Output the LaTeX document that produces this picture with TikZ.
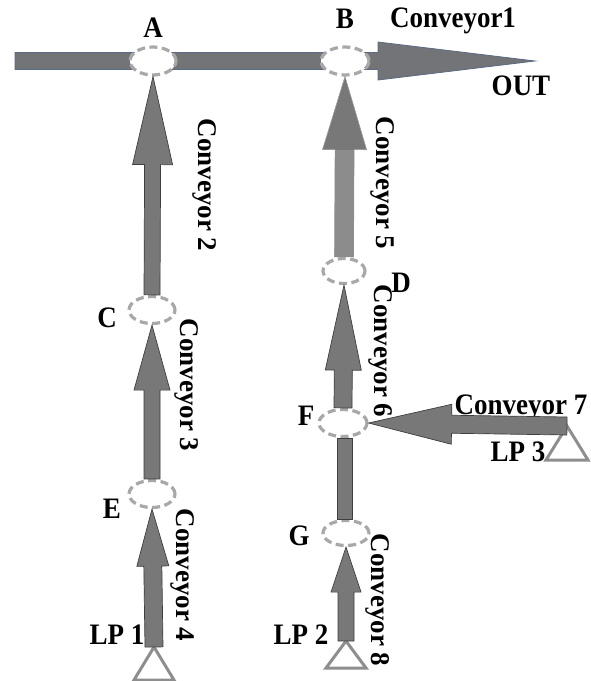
\documentclass[tikz,border=0pt]{standalone}
\usepackage{fontspec}
\setmainfont{Liberation Serif}
\usetikzlibrary{calc,shapes.geometric}

\definecolor{beltgray}{HTML}{787878}
\definecolor{beltedge}{HTML}{3E3E3E}
\definecolor{mainbelt}{HTML}{727478}
\definecolor{mainedge}{HTML}{5A6A84}
\definecolor{ringgray}{HTML}{A8A8A8}
\definecolor{lpgray}{HTML}{8E8E8E}

% block arrow: style, start, tip, head length, head half-width, shaft half-width
\newcommand\convarrow[6]{%
  \coordinate (ca-hb) at ($(#3)!#4!(#2)$);
  \path[#1] ($(#2)!#6!90:(#3)$) -- ($(ca-hb)!#6!90:(#3)$)
    -- ($(ca-hb)!#5!90:(#3)$) -- (#3)
    -- ($(ca-hb)!#5!-90:(#3)$) -- ($(ca-hb)!#6!-90:(#3)$)
    -- ($(#2)!#6!-90:(#3)$) -- cycle;
}
% slightly tall lettering for the upright labels
\newcommand\tall[1]{\scalebox{1}[1.1]{#1}}

\tikzset{
  belt/.style={fill=beltgray, draw=beltedge, line width=0.7pt, line join=miter},
  beltsoft/.style={fill=beltgray, draw=beltgray!75!white, line width=0.6pt},
  mainline/.style={fill=mainbelt, draw=mainedge, line width=0.8pt},
  ring/.style={ellipse, draw=ringgray, fill=white, line width=3.2pt,
    dash pattern=on 8pt off 4.5pt, inner sep=0pt},
  lpmark/.style={draw=lpgray, fill=white, line width=3pt, line join=miter},
  lbl/.style={font=\fontsize{27}{32}\selectfont\bfseries, inner sep=0pt}
}

\begin{document}
\begin{tikzpicture}[x=1pt,y=-1pt]
\path[use as bounding box] (0,0) rectangle (590,681);

% labels (drawn first so that conveyor 7 runs over its text)
\node[lbl] (lA) at (153,28) {\tall{A}};
\node[lbl] (lB) at (345,19) {\tall{B}};
\node[lbl] (lc1) at (453,21) {\tall{Conveyor1}};
\node[lbl] (lout) at (521,86) {\tall{OUT}};
\node[lbl] (lC) at (107,318) {\tall{C}};
\node[lbl] (lD) at (401,283) {\tall{D}};
\node[lbl] (lE) at (112,509) {\tall{E}};
\node[lbl] (lF) at (306,416) {\tall{F}};
\node[lbl] (lG) at (299,536) {\tall{G}};
\node[lbl] (llp1) at (117,635) {\tall{LP 1}};
\node[lbl] (llp2) at (301,635) {\tall{LP 2}};
\node[lbl] (llp3) at (518,452) {\tall{LP 3}};
\node[lbl] (lc7) at (521,408) {\tall{Conveyor 7}};
\node[lbl, rotate=-90] (lc2) at (205,185) {Conveyor 2};
\node[lbl, rotate=-90] (lc3) at (187,385) {Conveyor 3};
\node[lbl, rotate=-90] (lc4) at (183,575) {Conveyor 4};
\node[lbl, rotate=-90] (lc5) at (383,183) {Conveyor 5};
\node[lbl, rotate=-90] (lc6) at (381,351) {Conveyor 6};
\node[lbl, rotate=-90] (lc8) at (378,600) {Conveyor 8};

% main line, conveyor 1
\coordinate (in1) at (15,61);
\coordinate (out1) at (535,61);
\convarrow{mainline}{in1}{out1}{157pt}{19pt}{8.5pt}

% junction rings
\node[ring, minimum width=46pt, minimum height=28pt] (A) at (153,61) {};
\node[ring, minimum width=48pt, minimum height=28pt] (B) at (345,61) {};
\node[ring, minimum width=46pt, minimum height=27pt] (C) at (152,310) {};
\node[ring, minimum width=42pt, minimum height=25pt] (D) at (344,271) {};
\node[ring, minimum width=46pt, minimum height=27pt] (E) at (152,494) {};
\node[ring, minimum width=48pt, minimum height=27pt] (F) at (343,423) {};
\node[ring, minimum width=46pt, minimum height=25pt] (G) at (346,533) {};

% loading points
\coordinate (LP1) at (154,647);
\coordinate (LP2) at (346,641);
\coordinate (LP3) at (567,426);
\draw[lpmark] (LP1) -- ++(20,33) -- ++(-40,0) -- cycle;
\draw[lpmark] (LP2) -- ++(20,27) -- ++(-40,0) -- cycle;
\draw[lpmark] (LP3) -- ++(21,34) -- ++(-42,0) -- cycle;

% feeder conveyors
\convarrow{belt}{C.north}{A.south}{88pt}{20pt}{8pt}
\convarrow{belt}{E.north}{C.south}{65pt}{18pt}{8pt}
\convarrow{belt}{LP1}{E.south}{57pt}{16pt}{9pt}
\convarrow{beltsoft}{D.north}{B.south}{73pt}{22pt}{9.5pt}
\path[fill=beltgray!85!white] ($(ca-hb)+(-9.5,0)$) rectangle ($(D.north)+(9.5,0)$);
\convarrow{belt}{F.north}{D.south}{85pt}{18pt}{9pt}
\convarrow{belt}{LP3}{F.east}{83pt}{20pt}{9pt}
\convarrow{belt}{LP2}{G.south}{45pt}{15pt}{8pt}
\path[belt] ($(G.north)+(-9,0)$) rectangle ($(F.south)+(9,0)$);

\end{tikzpicture}
\end{document}
